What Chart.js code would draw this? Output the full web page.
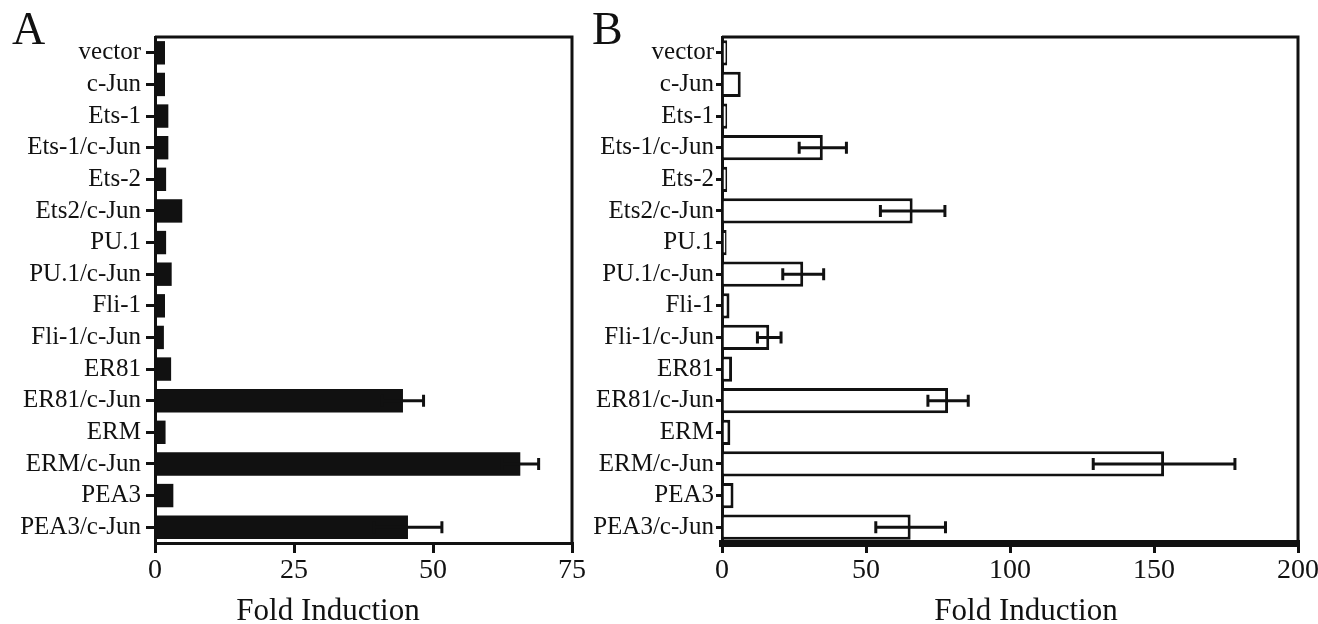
<!DOCTYPE html>
<html>
<head>
<meta charset="utf-8">
<script src="https://cdn.jsdelivr.net/npm/chart.js@4.4.1/dist/chart.umd.min.js"></script>
<style>
  body { margin: 0; background: #fff; }
  #wrap { position: relative; width: 1318px; height: 624px; overflow: hidden; background: #fff; }
  .panel { position: absolute; top: 0; height: 624px; }
  .txt { position: absolute; font-family: "Liberation Serif", "Times New Roman", serif; color: #111; line-height: 1; white-space: nowrap; }
  .letter { font-size: 46px; }
  .xtitle { font-size: 31px; width: 400px; text-align: center; top: 594px; }
</style>
</head>
<body>
<div id="wrap">
  <div class="panel" style="left:0;width:600px"><canvas id="chartA" width="600" height="624"></canvas></div>
  <div class="panel" style="left:570px;width:748px"><canvas id="chartB" width="748" height="624"></canvas></div>
  <div class="txt letter" style="left:12px;top:6px">A</div>
  <div class="txt letter" style="left:592px;top:6px">B</div>
  <div class="txt xtitle" style="left:128px">Fold Induction</div>
  <div class="txt xtitle" style="left:826px">Fold Induction</div>
</div>
<script>
// --- Data ---
const categories = ['vector', 'c-Jun', 'Ets-1', 'Ets-1/c-Jun', 'Ets-2', 'Ets2/c-Jun', 'PU.1', 'PU.1/c-Jun',
  'Fli-1', 'Fli-1/c-Jun', 'ER81', 'ER81/c-Jun', 'ERM', 'ERM/c-Jun', 'PEA3', 'PEA3/c-Jun'];

// panel A (filled bars)
const valuesA = [1.8, 1.8, 2.4, 2.4, 2.0, 4.9, 2.0, 3.0, 1.8, 1.6, 2.9, 44.6, 1.9, 65.7, 3.3, 45.5];
const errorsA = [0, 0, 0, 0, 0, 0, 0, 0, 0, 0, 0, 3.7, 0, 3.3, 0, 6.1];
const ticksA = [0, 25, 50, 75];

// panel B (open bars)
const valuesB = [1.8, 6.5, 1.8, 35.0, 1.8, 66.2, 1.6, 28.2, 2.6, 16.4, 3.5, 78.5, 2.9, 153.5, 4.0, 65.5];
const errorsB = [0, 0, 0, 8.2, 0, 11.2, 0, 7.1, 0, 4.1, 0, 7.0, 0, 24.6, 0, 12.1];
const ticksB = [0, 50, 100, 150, 200];

// --- Helpers ---
const INK = '#111';
const FONT = '"Liberation Serif", "Times New Roman", serif';

// error bars drawn from the dataset values through the x scale
const errorBarPlugin = {
  id: 'errorBars',
  afterDatasetsDraw(chart, args, opts) {
    const errs = opts.errors || [];
    const vals = chart.data.datasets[0].data;
    const xs = chart.scales.x;
    const ctx = chart.ctx;
    ctx.save();
    ctx.strokeStyle = INK;
    ctx.lineWidth = 3;
    chart.getDatasetMeta(0).data.forEach((bar, i) => {
      const e = errs[i];
      if (!e) return;
      const lo = xs.getPixelForValue(vals[i] - e);
      const hi = xs.getPixelForValue(vals[i] + e);
      const y = bar.y, h = 6;
      ctx.beginPath();
      ctx.moveTo(lo, y); ctx.lineTo(hi, y);
      ctx.moveTo(lo, y - h); ctx.lineTo(lo, y + h);
      ctx.moveTo(hi, y - h); ctx.lineTo(hi, y + h);
      ctx.stroke();
    });
    ctx.restore();
  }
};

// top and right sides of the box
const framePlugin = {
  id: 'frame',
  afterDraw(chart) {
    const { ctx, chartArea: a } = chart;
    ctx.save();
    ctx.strokeStyle = INK;
    ctx.lineWidth = 3;
    ctx.beginPath();
    ctx.moveTo(a.left, a.top);
    ctx.lineTo(a.right, a.top);
    ctx.lineTo(a.right, a.bottom);
    ctx.stroke();
    ctx.restore();
  }
};

function makeChart(canvasId, values, errors, ticks, cfg) {
  const max = ticks[ticks.length - 1];
  return new Chart(document.getElementById(canvasId), {
    type: 'bar',
    data: {
      labels: categories,
      datasets: [{
        data: values,
        backgroundColor: cfg.fill,
        borderColor: INK,
        borderWidth: cfg.border,
        borderSkipped: 'start',
        barPercentage: cfg.barPct,
        categoryPercentage: 1
      }]
    },
    options: {
      indexAxis: 'y',
      responsive: false,
      animation: false,
      layout: { padding: { top: 37, right: cfg.right, left: 0, bottom: 0 } },
      plugins: {
        legend: { display: false },
        tooltip: { enabled: false },
        errorBars: { errors: errors }
      },
      scales: {
        x: {
          min: 0, max: max,
          afterBuildTicks: s => { s.ticks = ticks.map(v => ({ value: v })); },
          afterFit: s => { s.height = 81; s.paddingLeft = 0; s.paddingRight = 0; },
          border: { color: INK, width: cfg.xAxisWidth },
          grid: { drawOnChartArea: false, tickLength: 10, color: INK, lineWidth: 3 },
          ticks: { color: INK, padding: 1, maxRotation: 0, font: { family: FONT, size: 28 } }
        },
        y: {
          afterFit: s => { s.width = cfg.left; s.paddingTop = 0; s.paddingBottom = 0; },
          border: { color: INK, width: 3 },
          grid: { drawOnChartArea: false, offset: false, tickLength: cfg.tickLen, color: INK, lineWidth: 3 },
          ticks: { color: INK, padding: cfg.labelPad, autoSkip: false, font: { family: FONT, size: 25 } }
        }
      }
    },
    plugins: [errorBarPlugin, framePlugin]
  });
}

// --- Init ---
makeChart('chartA', valuesA, errorsA, ticksA,
  { fill: INK, border: 0, barPct: 0.74, left: 155, right: 28, xAxisWidth: 3, tickLen: 9, labelPad: 5 });
makeChart('chartB', valuesB, errorsB, ticksB,
  { fill: '#fff', border: 3, barPct: 0.8, left: 152, right: 20, xAxisWidth: 7, tickLen: 6, labelPad: 2 });
</script>
</body>
</html>
